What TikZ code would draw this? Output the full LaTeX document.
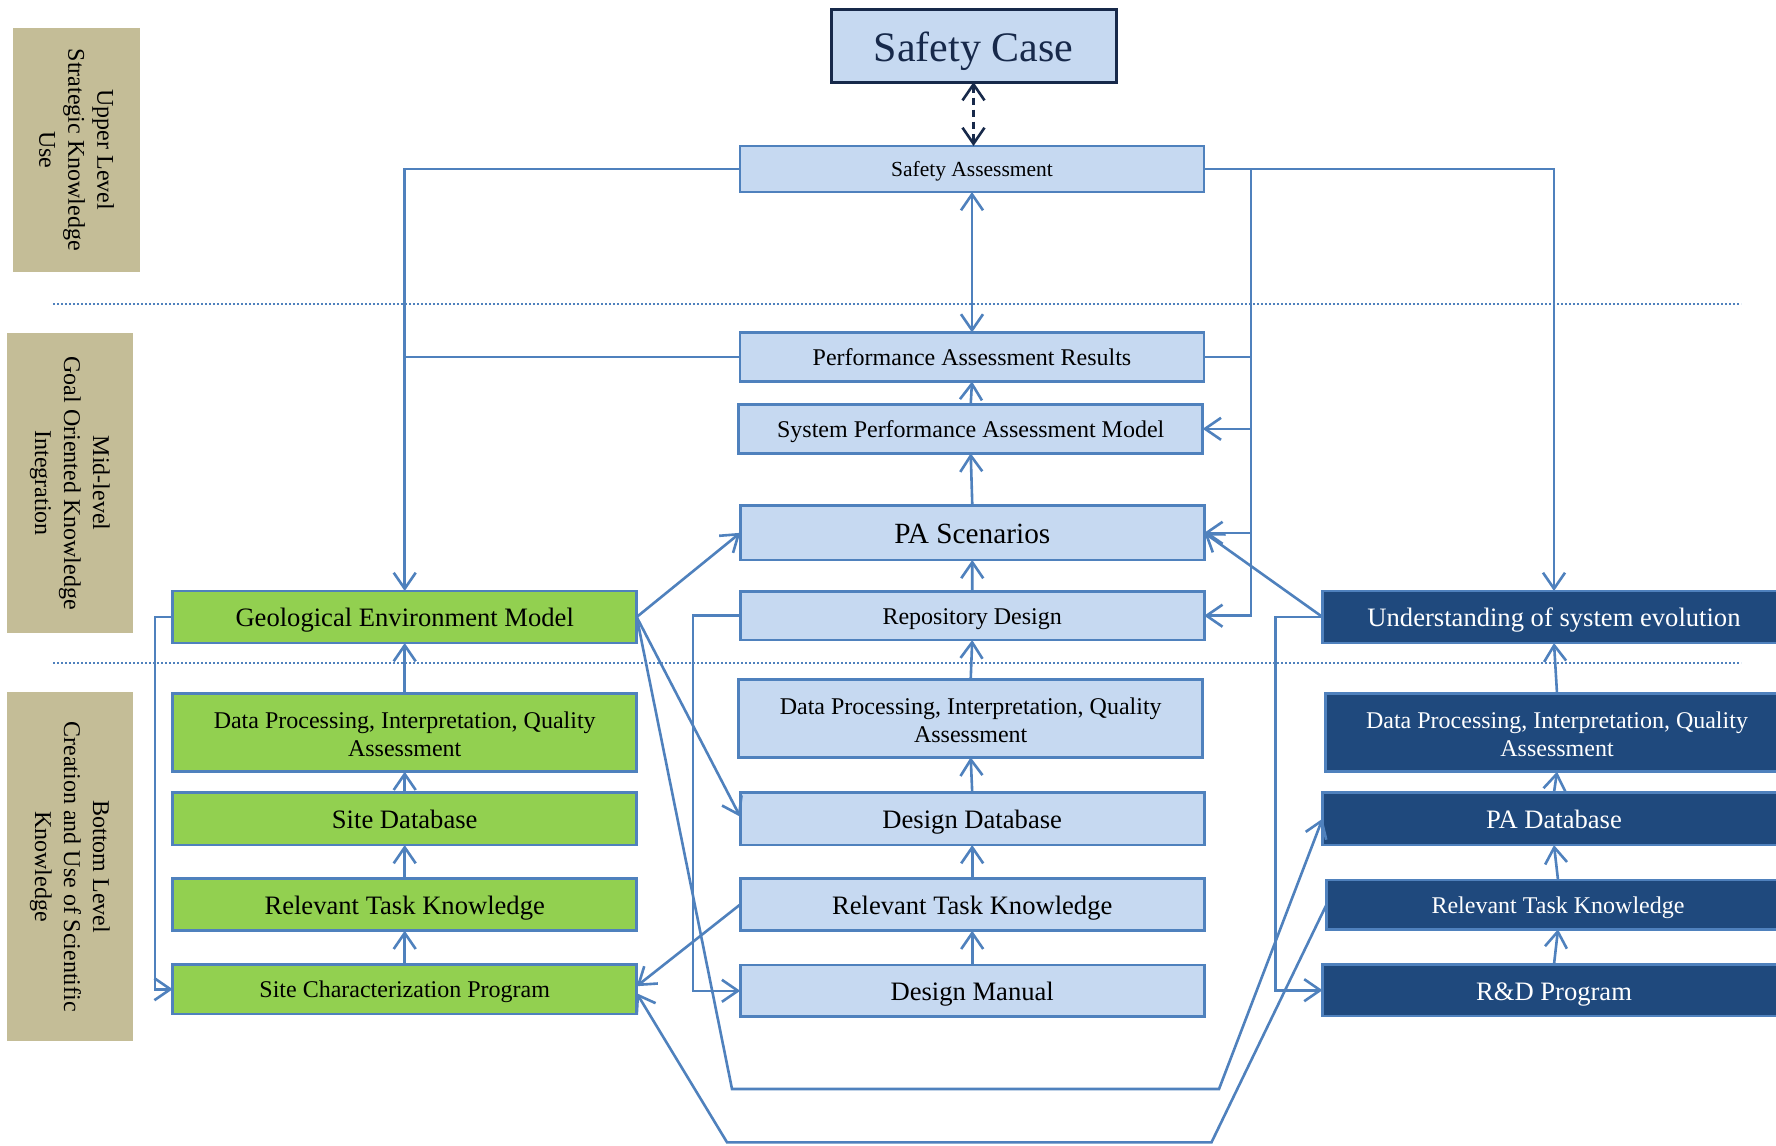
\documentclass[tikz,border=0pt]{standalone}
\usepackage{fontspec}
\setmainfont{Liberation Serif}
\usetikzlibrary{arrows.meta}
\definecolor{lblue}{HTML}{C6D9F1}
\definecolor{bord}{HTML}{4F81BD}
\definecolor{greenfill}{HTML}{92D050}
\definecolor{navyfill}{HTML}{1F497D}
\definecolor{tanfill}{HTML}{C4BD97}
\definecolor{scnavy}{HTML}{17294A}
\begin{document}
\begin{tikzpicture}[x=1pt,y=-1pt,
  box/.style={draw=bord, line width=2.8pt, fill=lblue, inner sep=0pt, outer sep=0pt, align=center, text=black, minimum width=464pt},
  gbox/.style={box, fill=greenfill},
  dbox/.style={box, fill=navyfill, text=white, minimum width=463pt},
  lblbox/.style={fill=tanfill, inner sep=0pt, align=center, rotate=-90, font=\fontsize{24}{29}\selectfont},
  fdp/.style={font=\fontsize{24}{28}\selectfont},
  fsmall/.style={font=\fontsize{24}{28}\selectfont, text height=17.5pt, text depth=0pt},
  fsa/.style={font=\fontsize{21.5}{26}\selectfont, text height=15.2pt, text depth=0pt},
  fmid/.style={font=\fontsize{26.6}{30}\selectfont, text height=19.6pt, text depth=0pt},
  fbig/.style={font=\fontsize{29.3}{33}\selectfont, text height=20.8pt, text depth=0pt},
  fhuge/.style={font=\fontsize{42}{48}\selectfont, text height=31.5pt, text depth=0pt},
  conn/.style={draw=bord, line width=2.6pt},
  tipb/.tip={Straight Barb[length=16pt,width=22pt]},
  arr/.style={conn, -tipb},
  dotline/.style={draw=bord, line width=2.6pt, dash pattern=on 2.2pt off 1.8pt}
]
\useasboundingbox[fill=white] (0,0) rectangle (1776,1145);

% level labels
\node[lblbox, minimum width=243.7pt, minimum height=127.3pt] (L1) at (76.55,149.85) {Upper Level\\Strategic Knowledge\\Use};
\node[lblbox, minimum width=300.3pt, minimum height=126pt] (L2) at (69.8,483.15) {Mid-level\\Goal Oriented Knowledge\\Integration};
\node[lblbox, minimum width=348.7pt, minimum height=126pt] (L3) at (69.8,866.65) {Bottom Level\\Creation and Use of Scientific\\Knowledge};

% dotted separators
\coordinate (D1a) at (53,304);
\coordinate (D1b) at (1741,304);
\coordinate (D2a) at (53,663);
\coordinate (D2b) at (1741,663);
\draw[dotline] (D1a) -- (D1b);
\draw[dotline] (D2a) -- (D2b);

% centre column
\node[box, draw=scnavy, line width=3pt, minimum width=285pt, minimum height=72.7pt, text=scnavy, fhuge] (SC) at (973.5,45.7) {Safety Case};
\node[box, minimum height=46pt, fsa] (SA) at (972,169) {Safety Assessment};
\node[box, minimum height=49pt, fsmall] (PAR) at (972,357) {Performance Assessment Results};
\node[box, minimum height=49pt, fsmall] (SPAM) at (970.7,428.8) {System Performance Assessment Model};
\node[box, minimum height=54.3pt, fbig] (PAS) at (972.3,532.8) {PA Scenarios};
\node[box, minimum height=48.7pt, fsmall] (RD) at (972.2,615.7) {Repository Design};
\node[box, minimum height=78pt, fdp] (DPB) at (970.7,718.3) {\rule{0pt}{21pt}Data Processing, Interpretation, Quality\\Assessment};
\node[box, minimum height=52.7pt, fmid] (DD) at (972.2,818.7) {Design Database};
\node[box, minimum height=52.4pt, fmid] (RTKB) at (972.2,904.5) {Relevant Task Knowledge};
\node[box, minimum height=51.7pt, fmid] (DM) at (972.2,990.8) {Design Manual};

% left (green) column
\node[gbox, minimum height=52pt, fmid] (GEO) at (404.7,617) {Geological Environment Model};
\node[gbox, minimum height=78.4pt, fdp] (DPG) at (404.7,732.5) {\rule{0pt}{21pt}Data Processing, Interpretation, Quality\\Assessment};
\node[gbox, minimum height=52.7pt, fmid] (SDB) at (404.7,818.7) {Site Database};
\node[gbox, minimum height=52.4pt, fmid] (RTKG) at (404.7,904.5) {Relevant Task Knowledge};
\node[gbox, minimum height=49.7pt, fsmall] (SCP) at (404.7,989.2) {Site Characterization Program};

% right (navy) column
\node[dbox, minimum height=52pt, fmid] (U) at (1554,617) {Understanding of system evolution};
\node[dbox, minimum height=78.4pt, fdp] (DPD) at (1557,732.5) {\rule{0pt}{21pt}Data Processing, Interpretation, Quality\\Assessment};
\node[dbox, minimum height=52.7pt, fmid] (PADB) at (1554,818.7) {PA Database};
\node[dbox, minimum height=49.3pt, fsmall] (RTKD) at (1558,904.6) {Relevant Task Knowledge};
\node[dbox, minimum height=51.7pt, fmid] (RDP) at (1554,990.2) {R\&D Program};

% safety case link
\draw[scnavy, line width=2.6pt, dash pattern=on 7pt off 5pt, tipb-tipb] (SC.south) -- (SC.south |- SA.north);
\draw[conn, tipb-tipb] (SA.south) -- (PAR.north);

% centre chain
\draw[arr] (SPAM.north) -- (PAR.south);
\draw[arr] (PAS.north) -- (SPAM.south);
\draw[arr] (RD.north) -- (PAS.south);
\draw[arr] (DPB.north) -- (RD.south);
\draw[arr] (DD.north) -- (DPB.south);
\draw[arr] (RTKB.north) -- (DD.south);
\draw[arr] (DM.north) -- (RTKB.south);

% green chain
\draw[arr] (DPG.north) -- (GEO.south);
\draw[arr] (SDB.north) -- (DPG.south);
\draw[arr] (RTKG.north) -- (SDB.south);
\draw[arr] (SCP.north) -- (RTKG.south);

% navy chain
\draw[arr] (DPD.north) -- (U.south);
\draw[arr] (PADB.north) -- (DPD.south);
\draw[arr] (RTKD.north) -- (PADB.south);
\draw[arr] (RDP.north) -- (RTKD.south);

% left bus from Safety Assessment
\draw[arr] (SA.west) -| (GEO.north);
\draw[conn] (PAR.west) -- (PAR.west -| GEO.north);

% right bus
\coordinate (RB) at (1251,169);
\draw[arr] (SA.east) -| (U.north);
\draw[arr] (RB) |- (RD.east);
\draw[conn] (PAR.east) -- (PAR.east -| RB);
\draw[arr] (SPAM.east -| RB) -- (SPAM.east);
\draw[arr] (PAS.east -| RB) -- (PAS.east);

% side loops
\coordinate (GL) at (155,617);
\draw[arr] (GEO.west) -- (GL) |- (SCP.west);
\coordinate (RL) at (693,615.7);
\draw[arr] (RD.west) -- (RL) |- (DM.west);
\coordinate (UL) at (1275.5,617);
\draw[arr] (U.west) -- (UL) |- (RDP.west);

% diagonals
\draw[arr] (GEO.east) -- (PAS.west);
\draw[arr] (GEO.east) -- ([yshift=2pt]DD.west);
\draw[arr] (U.west) -- (PAS.east);
\draw[arr] (RTKB.west) -- ([yshift=3pt]SCP.east);

% long bottom connectors
\coordinate (B1L) at (732,1089);
\coordinate (B1R) at (1219,1089);
\draw[arr] (GEO.east) -- (B1L) -- (B1R) -- (PADB.west);
\coordinate (B2L) at (727,1142.3);
\coordinate (B2R) at (1211.5,1142.3);
\draw[arr] (RTKD.west) -- (B2R) -- (B2L) -- ([yshift=-4pt]SCP.east);
\end{tikzpicture}
\end{document}
